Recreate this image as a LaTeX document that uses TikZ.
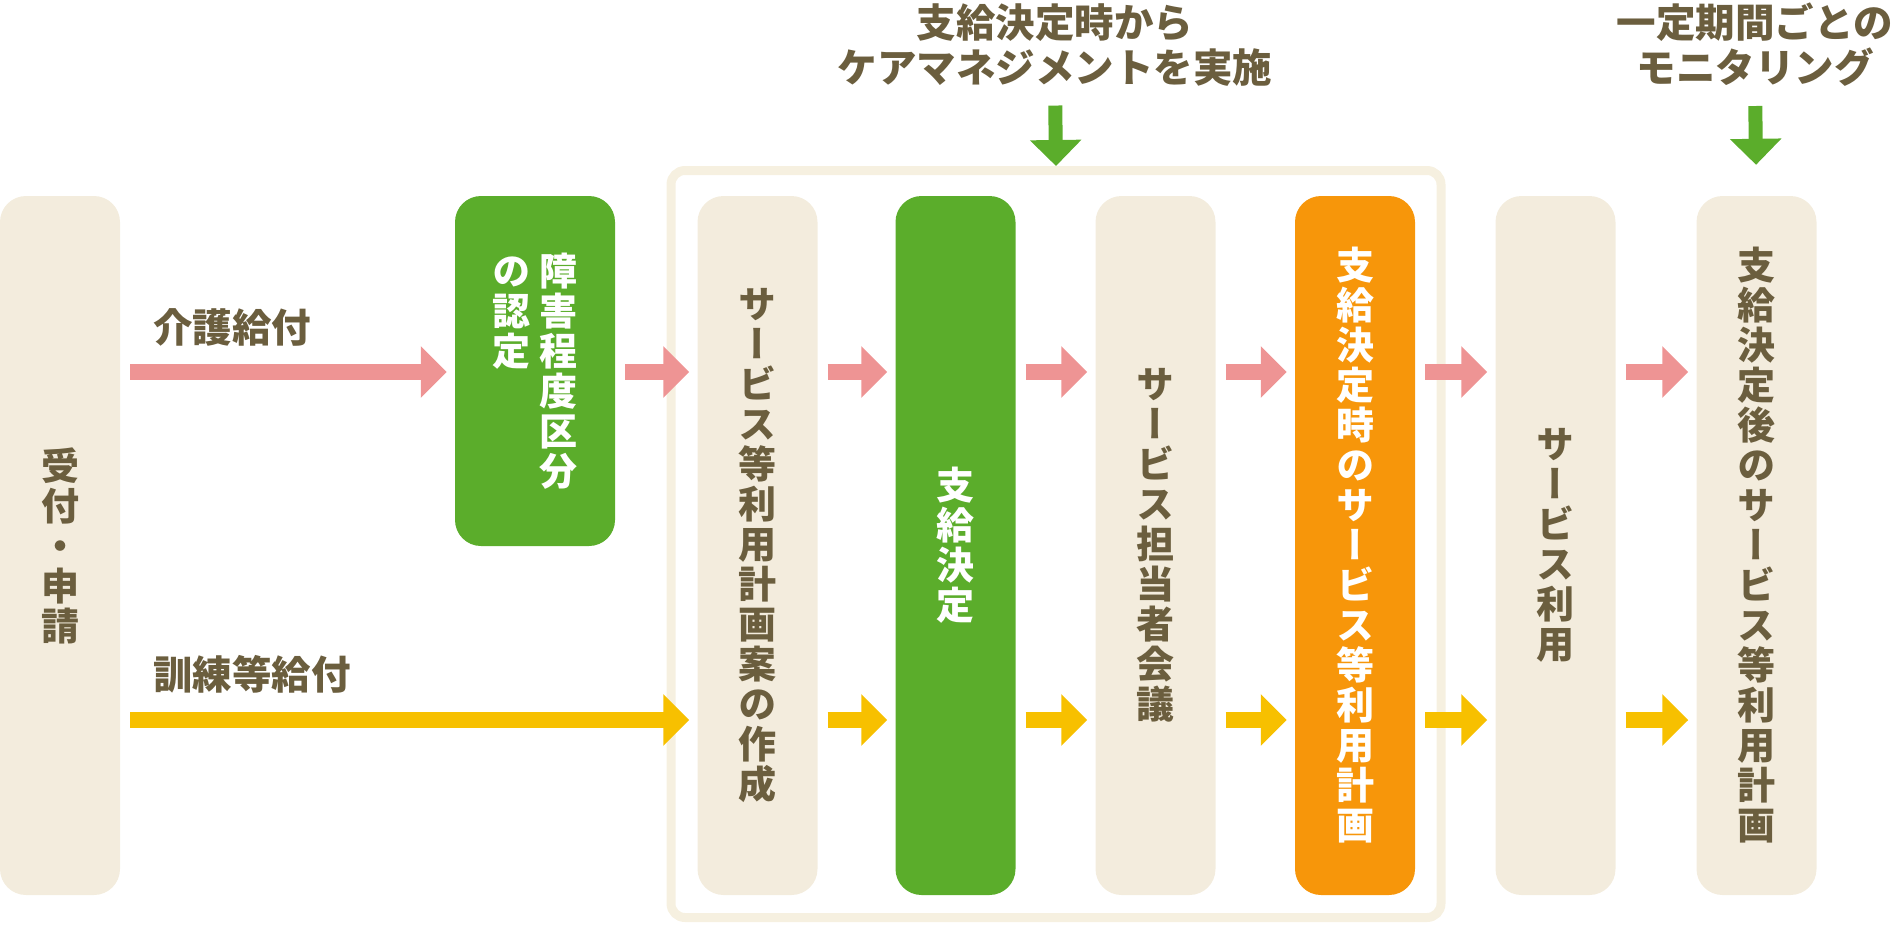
\documentclass[tikz,border=0pt]{standalone}
\usepackage{fontspec}
\setmainfont{Noto Sans CJK JP}
\newfontfamily\tatefont{Noto Sans CJK JP}[RawFeature=+vert]
\usetikzlibrary{arrows.meta}
\definecolor{beige}{HTML}{F3ECDD}
\definecolor{framebeige}{HTML}{F6F0E0}
\definecolor{leafgreen}{HTML}{5BAD2B}
\definecolor{orangebox}{HTML}{F7960A}
\definecolor{pinkarrow}{HTML}{EE9494}
\definecolor{yellowarrow}{HTML}{F7C000}
\definecolor{browntext}{HTML}{6B5E3E}
\def\tate#1{\parbox[t]{1em}{\centering #1}}

\begin{document}
\begin{tikzpicture}[x=1pt, y=-1pt,
		box/.style={rectangle, rounded corners=26pt, minimum width=120pt, minimum height=699pt, inner sep=0pt, fill=beige, text=browntext, align=center, font=\tatefont\bfseries\fontsize{38}{40}\selectfont},
		greenbox/.style={box, fill=leafgreen, text=white},
		heading/.style={inner sep=0pt, align=center, text=browntext, font=\bfseries\fontsize{39.5}{45}\selectfont},
		flowlabel/.style={inner sep=0pt, anchor=west, text=browntext, font=\bfseries\fontsize{39.5}{40}\selectfont},
		pinkflow/.style={draw=pinkarrow, line width=16pt, -{Triangle[length=26pt, width=50pt]}, shorten <=10pt, shorten >=8pt},
		yellowflow/.style={pinkflow, draw=yellowarrow},
		greendown/.style={draw=leafgreen, line width=14pt, -{Triangle[length=26pt, width=50pt]}, shorten <=19pt}]
		%%%%% START %%%%%
		
		\useasboundingbox (0, 0) rectangle (1897, 940);
		
		\coordinate (kaigorow) at (0, 372);
		\coordinate (kunrenrow) at (0, 720);
		
		\node[draw=framebeige, line width=9pt, rounded corners=14pt, minimum width=770pt, minimum height=747pt] (careframe) at (1056, 544) {};
		
		\node[box] (uketsuke) at (60, 545.5) {受\\付\\・\\申\\請};
		\node[greenbox, minimum width=160pt, minimum height=350pt] (shogai) at (535, 371) {\tate{の\\認\\定}\hspace{9pt}\tate{障\\害\\程\\度\\区\\分}};
		\node[box] (plandraft) at (757.5, 545.5) {サ\\ー\\ビ\\ス\\等\\利\\用\\計\\画\\案\\の\\作\\成};
		\node[greenbox] (kettei) at (955.5, 545.5) {支\\給\\決\\定};
		\node[box] (kaigi) at (1155.5, 545.5) {サ\\ー\\ビ\\ス\\担\\当\\者\\会\\議};
		\node[greenbox, fill=orangebox] (ketteiplan) at (1355, 545.5) {支\\給\\決\\定\\時\\の\\サ\\ー\\ビ\\ス\\等\\利\\用\\計\\画};
		\node[box] (riyou) at (1555.5, 545.5) {サ\\ー\\ビ\\ス\\利\\用};
		\node[box] (atoplan) at (1756.5, 545.5) {支\\給\\決\\定\\後\\の\\サ\\ー\\ビ\\ス\\等\\利\\用\\計\\画};
		
		\node[heading] (caretext) at (1055, 45) {支給決定時から\\ケアマネジメントを実施};
		\node[heading] (monitext) at (1755, 45) {一定期間ごとの\\モニタリング};
		
		\node[flowlabel] (kaigolabel) at (153, 327) {介護給付};
		\node[flowlabel] (kunrenlabel) at (153, 674) {訓練等給付};
		
		\draw[greendown] (caretext.south) -- (careframe.north);
		\draw[greendown, shorten >=31pt] (monitext.south) -- (atoplan.north);
		
		\draw[pinkflow] (uketsuke.east |- kaigorow) -- (shogai.west |- kaigorow);
		\draw[pinkflow] (shogai.east |- kaigorow) -- (plandraft.west |- kaigorow);
		\draw[pinkflow] (plandraft.east |- kaigorow) -- (kettei.west |- kaigorow);
		\draw[pinkflow] (kettei.east |- kaigorow) -- (kaigi.west |- kaigorow);
		\draw[pinkflow] (kaigi.east |- kaigorow) -- (ketteiplan.west |- kaigorow);
		\draw[pinkflow] (ketteiplan.east |- kaigorow) -- (riyou.west |- kaigorow);
		\draw[pinkflow] (riyou.east |- kaigorow) -- (atoplan.west |- kaigorow);
		
		\draw[yellowflow] (uketsuke.east |- kunrenrow) -- (plandraft.west |- kunrenrow);
		\draw[yellowflow] (plandraft.east |- kunrenrow) -- (kettei.west |- kunrenrow);
		\draw[yellowflow] (kettei.east |- kunrenrow) -- (kaigi.west |- kunrenrow);
		\draw[yellowflow] (kaigi.east |- kunrenrow) -- (ketteiplan.west |- kunrenrow);
		\draw[yellowflow] (ketteiplan.east |- kunrenrow) -- (riyou.west |- kunrenrow);
		\draw[yellowflow] (riyou.east |- kunrenrow) -- (atoplan.west |- kunrenrow);
		
		%%%%% END %%%%%
\end{tikzpicture}
\end{document}
